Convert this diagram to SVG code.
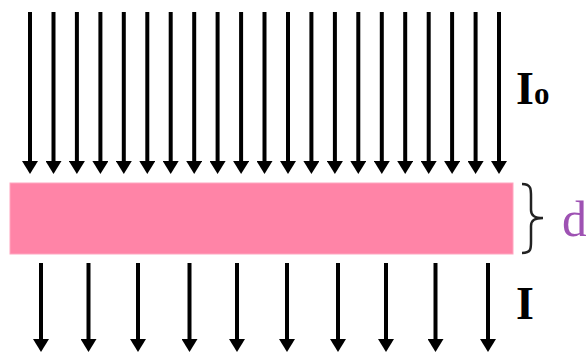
<svg xmlns="http://www.w3.org/2000/svg" width="586" height="353" viewBox="0 0 586 353">
<defs>
<style>
.shaft{stroke:#000;stroke-width:4;fill:none}
.lbl{font-family:"Liberation Serif",serif;font-weight:bold;fill:#000}
</style>
<marker id="ah" markerUnits="userSpaceOnUse" markerWidth="14" markerHeight="16" refX="2" refY="8" orient="auto" viewBox="0 0 14 16">
<path d="M0,0 L13,8 L0,16 Z" fill="#000"/>
</marker>
</defs>
<rect width="586" height="353" fill="#fff"/>
<g id="connectors">
<g id="incident">
<path class="shaft" marker-end="url(#ah)" d="M30,12V163"/>
<path class="shaft" marker-end="url(#ah)" d="M53.5,12V163"/>
<path class="shaft" marker-end="url(#ah)" d="M76.9,12V163"/>
<path class="shaft" marker-end="url(#ah)" d="M100.4,12V163"/>
<path class="shaft" marker-end="url(#ah)" d="M123.8,12V163"/>
<path class="shaft" marker-end="url(#ah)" d="M147.3,12V163"/>
<path class="shaft" marker-end="url(#ah)" d="M170.7,12V163"/>
<path class="shaft" marker-end="url(#ah)" d="M194.2,12V163"/>
<path class="shaft" marker-end="url(#ah)" d="M217.6,12V163"/>
<path class="shaft" marker-end="url(#ah)" d="M241.1,12V163"/>
<path class="shaft" marker-end="url(#ah)" d="M264.5,12V163"/>
<path class="shaft" marker-end="url(#ah)" d="M288,12V163"/>
<path class="shaft" marker-end="url(#ah)" d="M311.4,12V163"/>
<path class="shaft" marker-end="url(#ah)" d="M334.9,12V163"/>
<path class="shaft" marker-end="url(#ah)" d="M358.3,12V163"/>
<path class="shaft" marker-end="url(#ah)" d="M381.8,12V163"/>
<path class="shaft" marker-end="url(#ah)" d="M405.2,12V163"/>
<path class="shaft" marker-end="url(#ah)" d="M428.7,12V163"/>
<path class="shaft" marker-end="url(#ah)" d="M452.1,12V163"/>
<path class="shaft" marker-end="url(#ah)" d="M475.6,12V163"/>
<path class="shaft" marker-end="url(#ah)" d="M499,12V163"/>
</g>
<g id="transmitted">
<path class="shaft" marker-end="url(#ah)" d="M41,263V341"/>
<path class="shaft" marker-end="url(#ah)" d="M88.5,263V341"/>
<path class="shaft" marker-end="url(#ah)" d="M138,263V341"/>
<path class="shaft" marker-end="url(#ah)" d="M189.5,263V341"/>
<path class="shaft" marker-end="url(#ah)" d="M237,263V341"/>
<path class="shaft" marker-end="url(#ah)" d="M287,263V341"/>
<path class="shaft" marker-end="url(#ah)" d="M338,263V341"/>
<path class="shaft" marker-end="url(#ah)" d="M386,263V341"/>
<path class="shaft" marker-end="url(#ah)" d="M435.5,263V341"/>
<path class="shaft" marker-end="url(#ah)" d="M488,263V341"/>
</g>
</g>
<g id="slab">
<rect x="10" y="183" width="503" height="71" fill="#FF84A7" stroke="#FFA6C0" stroke-width="1"/>
</g>
<g id="brace">
<path d="M522,184 C532,184 531,190 531,200 L531,210 C531,216 535,218 543,218 C535,218 531,220 531,226 L531,238 C531,248 532,253 522,253" fill="none" stroke="#222" stroke-width="2.5"/>
</g>
<g id="label-d">
<text x="562" y="236" font-family="'Liberation Serif',serif" font-size="50" fill="#9E52B3">d</text>
</g>
<g id="label-I0">
<text class="lbl" x="516" y="104" font-size="46">I<tspan font-size="31">o</tspan></text>
</g>
<g id="label-I">
<text class="lbl" x="516" y="319" font-size="46">I</text>
</g>
</svg>
